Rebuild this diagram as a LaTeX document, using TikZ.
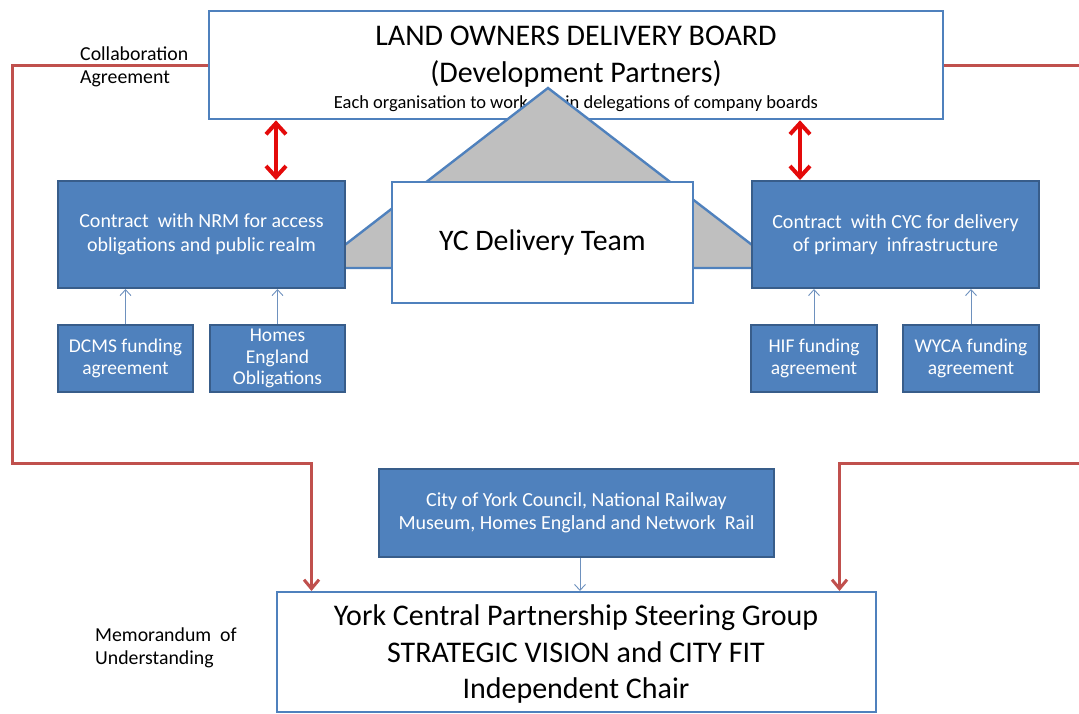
\documentclass[tikz,border=0pt]{standalone}
\usepackage{fontspec}
\setmainfont{Carlito}
\usetikzlibrary{arrows.meta}

\definecolor{boxblue}{RGB}{79,129,189}
\definecolor{boxedge}{RGB}{56,93,138}
\definecolor{linkred}{RGB}{192,80,77}
\definecolor{brightred}{RGB}{228,10,10}
\definecolor{feedline}{RGB}{110,145,190}
\definecolor{wedgegray}{RGB}{191,191,191}

\tikzset{
  whitebox/.style={draw=boxblue, line width=2.6pt, fill=white, inner sep=0pt},
  bluebox/.style={draw=boxedge, line width=2pt, fill=boxblue, text=white,
    inner sep=0pt, align=center, font=\fontsize{20}{23.5}\selectfont},
  smallbox/.style={bluebox, font=\fontsize{19.5}{21.5}\selectfont},
  linkline/.style={draw=linkred, line width=3pt},
  linkarrow/.style={linkline, -{Straight Barb[length=9pt,width=15pt]}},
  boardlink/.style={draw=brightred, line width=4pt,
    {Straight Barb[length=11pt,width=20pt]}-{Straight Barb[length=11pt,width=20pt]}},
  feed/.style={draw=feedline, line width=0.9pt, -{Straight Barb[length=6pt,width=11pt]}},
  note/.style={inner sep=0pt, align=left, font=\fontsize{19.8}{23}\selectfont},
  bigtext/.style={anchor=base, inner sep=0pt, font=\fontsize{30}{36}\selectfont},
}

\begin{document}
\begin{tikzpicture}[x=1pt, y=-1pt]
\useasboundingbox (0,0) rectangle (1079,713);

% corner points of the red governance lines
\coordinate (lc) at (12,463);
\coordinate (re1) at (1079,65);
\coordinate (re2) at (1079,463);

% land owners delivery board
\node[whitebox, minimum width=734pt, minimum height=108pt] (lodb) at (576,65) {};
\node[bigtext] (lodb1) at (576,45) {LAND OWNERS DELIVERY BOARD};
\node[bigtext] (lodb2) at (576,82) {(Development Partners)};
\node[anchor=base, inner sep=0pt, font=\fontsize{18.5}{21}\selectfont] (lodb3) at (576,108) {Each organisation to work within delegations of company boards};

% grey wedge linking the board to the delivery team
\draw[draw=boxblue, line width=2.4pt, fill=wedgegray, line join=miter]
  (548,88) -- (315,268) -- (782,268) -- cycle;

% contract boxes and delivery team
\node[bluebox, minimum width=287pt, minimum height=107pt] (nrm) at (201.5,234.5)
  {Contract~ with NRM for access\\obligations and public realm};
\node[bluebox, minimum width=287pt, minimum height=107pt] (cyc) at (895.5,234.5)
  {Contract~ with CYC for delivery\\of primary~ infrastructure};
\node[whitebox, minimum width=301pt, minimum height=121pt,
  font=\fontsize{29.8}{35}\selectfont] (yc) at (542.5,242.5) {YC Delivery Team};

% funding boxes
\node[smallbox, minimum width=135pt, minimum height=67pt] (dcms) at (125.5,358.5) {DCMS funding\\agreement};
\node[smallbox, minimum width=135pt, minimum height=67pt] (homes) at (277.5,358.5) {Homes\\England\\Obligations};
\node[smallbox, minimum width=126pt, minimum height=67pt] (hif) at (814,358.5) {HIF funding\\agreement};
\node[smallbox, minimum width=136pt, minimum height=67pt] (wyca) at (971,358.5) {WYCA funding\\agreement};

% partners and steering group
\node[bluebox, minimum width=395pt, minimum height=88pt] (city) at (576.5,513)
  {City of York Council, National Railway\\Museum, Homes England and Network~ Rail};
\node[draw=boxblue, line width=2pt, fill=white, minimum width=599pt, minimum height=120pt, inner sep=0pt] (steer) at (576.5,652) {};
\node[bigtext] (steer1) at (576,625) {York Central Partnership Steering Group};
\node[bigtext] (steer2) at (576,662) {STRATEGIC VISION and CITY FIT};
\node[bigtext] (steer3) at (576,698) {Independent Chair};

% side notes
\node[note, anchor=west] (collab) at (80,66.5) {Collaboration\\Agreement};
\node[note, anchor=west] (mou) at (95,647.5) {Memorandum~ of\\Understanding};

% red connectors to the steering group
\draw[linkarrow] (lodb.west) -| (lc) -| ([xshift=-265pt]steer.north);
\draw[linkline] (lodb.east) -- (re1);
\draw[linkarrow] (re2) -| ([xshift=263pt]steer.north);

% board to contract links
\coordinate (ra) at (276,0);
\coordinate (rb) at (800,0);
\draw[boardlink] (lodb.south -| ra) -- (nrm.north -| ra);
\draw[boardlink] (lodb.south -| rb) -- (cyc.north -| rb);

% funding feeds
\draw[feed] (dcms.north) -- (dcms.north |- nrm.south);
\draw[feed] (homes.north) -- (homes.north |- nrm.south);
\draw[feed] (hif.north) -- (hif.north |- cyc.south);
\draw[feed] (wyca.north) -- (wyca.north |- cyc.south);
\draw[feed] ([xshift=3.5pt]city.south) -- ([xshift=3.5pt]city.south |- steer.north);
\end{tikzpicture}
\end{document}
